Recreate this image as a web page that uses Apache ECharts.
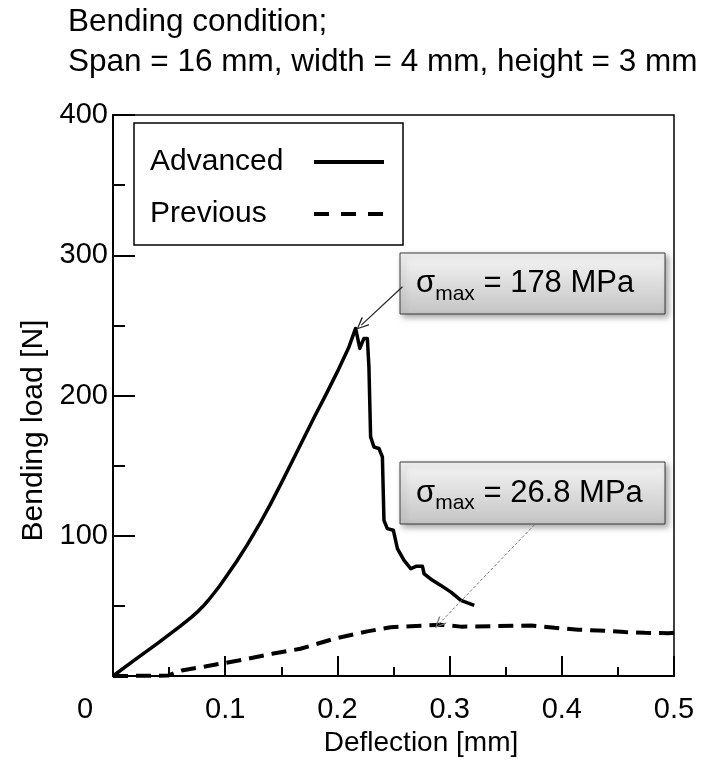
<!DOCTYPE html>
<html>
<head>
<meta charset="utf-8">
<script src="https://cdn.jsdelivr.net/npm/echarts@6/dist/echarts.min.js"></script>
<style>
html,body{margin:0;padding:0;background:#fff;}
#chart{width:705px;height:767px;}
</style>
</head>
<body>
<div id="chart"></div>
<script>
// ---- data ----
var titleLines = ['Bending condition;', 'Span = 16 mm, width = 4 mm, height = 3 mm'];
var xAxisName = 'Deflection [mm]';
var yAxisName = 'Bending load [N]';
var seriesNames = ['Advanced', 'Previous'];

var advancedX = [0, 0.02, 0.04, 0.06, 0.07, 0.075, 0.08, 0.085, 0.09, 0.095, 0.10, 0.11, 0.12, 0.13, 0.14, 0.15, 0.16, 0.17, 0.18, 0.19, 0.20, 0.21, 0.2162, 0.22, 0.2236, 0.2267, 0.2281, 0.2296, 0.2326, 0.237, 0.2401, 0.2415, 0.2445, 0.2499, 0.2535, 0.2594, 0.2654, 0.2699, 0.2758, 0.2773, 0.2848, 0.2922, 0.3012, 0.3101, 0.322];
var advancedY = [0, 11.8, 23.5, 35.5, 42, 45.5, 49.5, 54, 59, 64.2, 69.8, 81.5, 94, 107.5, 122, 137.5, 153.5, 169.5, 185.5, 201, 217, 234, 247.8, 233.6, 240.7, 240.7, 220.4, 170.5, 163.3, 162.2, 156.2, 111, 105.1, 103.9, 90.8, 82.4, 76.5, 78.2, 78.2, 72.9, 68.2, 64.6, 59.8, 53.9, 50.3];

var previousX = [0, 0.049, 0.0612, 0.082, 0.1118, 0.1417, 0.167, 0.1968, 0.2267, 0.2475, 0.2654, 0.2922, 0.3101, 0.3369, 0.3727, 0.3936, 0.4145, 0.4324, 0.4562, 0.474, 0.495, 0.5];
var previousY = [0, 0.3, 3.9, 6.8, 11, 15.8, 19.4, 26.5, 31.8, 34.8, 35.5, 36.5, 35.2, 35.5, 36, 34.4, 33, 32.5, 31.3, 30.8, 30.5, 30.8];

var annotationTexts = [' = 178 MPa', ' = 26.8 MPa'];
// annotation arrows (data coordinates): [from, to]
var arrow1 = [[0.258, 277.5], [0.2213, 250.2]];
var arrow2 = [[0.3757, 107.9], [0.2907, 37.3]];

var FONT = 'Liberation Sans, Arial, sans-serif';

function zip(xs, ys) { return xs.map(function (x, i) { return [x, ys[i]]; }); }

var chart = echarts.init(document.getElementById('chart'), null, {renderer: 'canvas'});

var chevron = 'path://M5,0 L10,9 L9,10 L5,2 L1,10 L0,9 Z';

function boxGroup(x, y, w, h, txt) {
  return {
    type: 'group', z: 100,
    children: [
      {
        type: 'rect',
        shape: {x: x, y: y, width: w, height: h},
        style: {
          fill: new echarts.graphic.LinearGradient(0, 0, 0, 1, [
            {offset: 0, color: '#f6f6f6'}, {offset: 1, color: '#c4c4c4'}
          ]),
          stroke: '#3a3a3a', lineWidth: 1,
          shadowBlur: 6, shadowOffsetX: 3, shadowOffsetY: 3, shadowColor: 'rgba(0,0,0,0.35)'
        }
      },
      {
        type: 'text', x: x + 16, y: y + h / 2,
        style: {
          text: '{s|σ}{b|max}{t|' + txt + '}',
          verticalAlign: 'middle', align: 'left',
          rich: {
            s: {fontSize: 31, fontFamily: FONT, fill: '#000'},
            b: {fontSize: 21, fontFamily: FONT, fill: '#000', padding: [21, 0, 0, 0]},
            t: {fontSize: 31, fontFamily: FONT, fill: '#000'}
          }
        }
      }
    ]
  };
}

var option = {
  animation: false,
  backgroundColor: '#fff',
  title: {
    text: titleLines.join('\n'),
    left: 68, top: 2, padding: 0,
    textStyle: {fontFamily: FONT, fontSize: 31.5, fontWeight: 'normal', color: '#000', lineHeight: 40}
  },
  grid: {left: 113, right: 31, top: 115, bottom: 91, show: true, borderColor: '#000', borderWidth: 1.5, backgroundColor: 'transparent'},
  legend: {
    left: 134, top: 123, orient: 'vertical', align: 'right',
    padding: [24, 17, 16, 16], itemGap: 22, itemWidth: 70, itemHeight: 30,
    borderColor: '#000', borderWidth: 1.5, backgroundColor: '#fff',
    itemStyle: {opacity: 0, borderWidth: 0},
    data: [
      {name: seriesNames[0], lineStyle: {width: 4}},
      {name: seriesNames[1], lineStyle: {width: 4, type: [15, 12]}}
    ],
    formatter: '{n|{name}}',
    textStyle: {
      fontFamily: FONT, fontSize: 30, color: '#000',
      rich: {n: {width: 159, align: 'left', fontSize: 30, fontFamily: FONT, color: '#000', lineHeight: 30}}
    }
  },
  xAxis: {
    type: 'value', min: 0, max: 0.5, interval: 0.1,
    name: xAxisName, nameLocation: 'middle', nameGap: 34,
    nameTextStyle: {fontFamily: FONT, fontSize: 28, color: '#000', padding: [0, 0, 0, 55]},
    axisLine: {show: true, onZero: false, lineStyle: {color: '#000', width: 2}},
    axisTick: {show: true, inside: true, length: 20, lineStyle: {color: '#000', width: 2}},
    minorTick: {show: true, splitNumber: 2, length: 9, lineStyle: {color: '#000', width: 2}},
    splitLine: {show: false},
    axisLabel: {
      fontFamily: FONT, fontSize: 29, color: '#000', margin: 19,
      formatter: function (v) { return v === 0 ? '{z|0}' : String(v); },
      rich: {z: {fontFamily: FONT, fontSize: 29, color: '#000', padding: [0, 56, 0, 0]}}
    }
  },
  yAxis: {
    type: 'value', min: 0, max: 400, interval: 100,
    name: yAxisName, nameLocation: 'middle', nameGap: 63,
    nameTextStyle: {fontFamily: FONT, fontSize: 30, color: '#000', padding: [0, 70, 0, 0]},
    axisLine: {show: true, onZero: false, lineStyle: {color: '#000', width: 2}},
    axisTick: {show: true, inside: true, length: 22, lineStyle: {color: '#000', width: 2}},
    minorTick: {show: true, splitNumber: 2, length: 12, lineStyle: {color: '#000', width: 2}},
    splitLine: {show: false},
    axisLabel: {
      fontFamily: FONT, fontSize: 29, color: '#000', margin: 5,
      formatter: function (v) { return v === 0 ? '' : String(v); }
    }
  },
  series: [
    {
      name: seriesNames[0], type: 'line', data: zip(advancedX, advancedY),
      symbol: 'none', showSymbol: false, smooth: false,
      lineStyle: {color: '#000', width: 3.5, join: 'round'},
      itemStyle: {color: '#000'},
      z: 3,
      markLine: {
        silent: true, animation: false,
        label: {show: false},
        data: [
          [
            {coord: arrow1[0], symbol: 'none', lineStyle: {color: '#222', width: 1.2, type: 'solid'}},
            {coord: arrow1[1], symbol: chevron, symbolSize: [11, 13]}
          ],
          [
            {coord: arrow2[0], symbol: 'none', lineStyle: {color: '#777', width: 1, type: [3, 2]}},
            {coord: arrow2[1], symbol: chevron, symbolSize: [10, 12]}
          ]
        ]
      }
    },
    {
      name: seriesNames[1], type: 'line', data: zip(previousX, previousY),
      symbol: 'none', showSymbol: false, smooth: false,
      lineStyle: {color: '#000', width: 4, type: [15, 8]},
      itemStyle: {color: '#000'},
      z: 2
    }
  ],
  graphic: [
    boxGroup(400, 253, 265, 61, annotationTexts[0]),
    boxGroup(400, 462, 265, 62, annotationTexts[1])
  ]
};

chart.setOption(option);
</script>
</body>
</html>
